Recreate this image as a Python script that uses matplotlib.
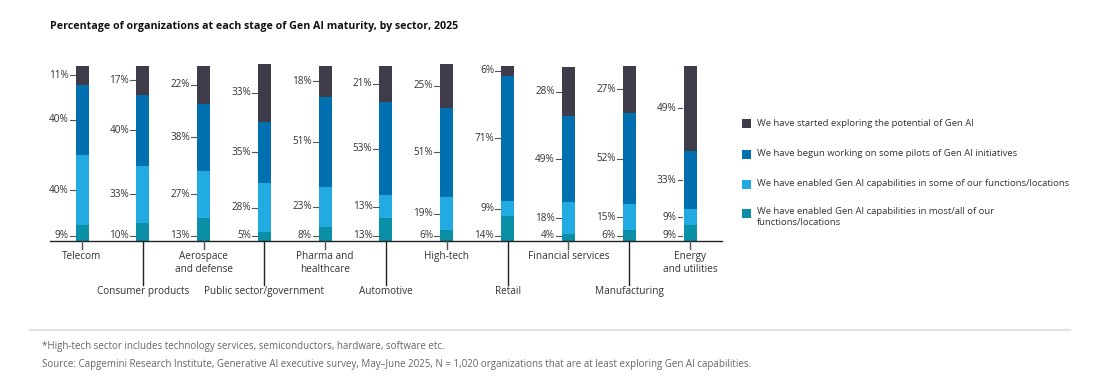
import matplotlib.pyplot as plt
from matplotlib.patches import Rectangle
from matplotlib.lines import Line2D

plt.rcParams['font.family'] = ['Open Sans', 'DejaVu Sans']

# data (bottom -> top)
sectors = ['Telecom', 'Consumer products', 'Aerospace\nand defense', 'Public sector/government',
           'Pharma and\nhealthcare', 'Automotive', 'High-tech', 'Retail', 'Financial services',
           'Manufacturing', 'Energy\nand utilities']
most_all = [9, 10, 13, 5, 8, 13, 6, 14, 4, 6, 9]
some = [40, 33, 27, 28, 23, 13, 19, 9, 18, 15, 9]
pilots = [40, 40, 38, 35, 51, 53, 51, 71, 49, 52, 33]
exploring = [11, 17, 22, 33, 18, 21, 25, 6, 28, 27, 49]

series = [most_all, some, pilots, exploring]
colors = ['#0a8fa6', '#22abe2', '#0070b0', '#3e3c4b']
legend_labels = ['We have started exploring the potential of Gen AI',
                 'We have begun working on some pilots of Gen AI initiatives',
                 'We have enabled Gen AI capabilities in some of our functions/locations',
                 'We have enabled Gen AI capabilities in most/all of our\nfunctions/locations']
legend_colors = ['#3e3c4b', '#0070b0', '#22abe2', '#0a8fa6']

W, H = 1096, 391
fig = plt.figure(figsize=(W / 100, H / 100), dpi=100)

base_px, top_px = 241, 60
left_px, right_px = 50, 722
ax = fig.add_axes([left_px / W, 1 - base_px / H, (right_px - left_px) / W, (base_px - top_px) / H])
px_per_pct = 1.755
ax.set_ylim(0, (base_px - top_px) / px_per_pct)
step = 60.8
ax.set_xlim((left_px - 82) / step, (right_px - 82) / step)
ax.axis('off')

bw = 13 / step
to_pct = 1 / px_per_pct
gray = '#333333'
for i in range(len(sectors)):
    bottom = 0
    for k, (s, c) in enumerate(zip(series, colors)):
        v = s[i]
        ax.bar(i, v, bottom=bottom, width=bw, color=c, linewidth=0)
        # lowest label sits just above the baseline
        mid = 5 * to_pct if k == 0 else bottom + v / 2
        ax.plot([i - bw / 2 - 6 / step, i - bw / 2 - 1 / step], [mid, mid], color='#555555', lw=0.8, clip_on=False)
        ax.text(i - bw / 2 - 7 / step, mid, f'{v}%', ha='right', va='center', fontsize=7.2, color=gray)
        bottom += v

# baseline
ax.plot([(left_px - 82) / step, (right_px - 82) / step], [0, 0], color='#222222', lw=1, clip_on=False)

# category labels, staggered
for i, name in enumerate(sectors):
    if i % 2 == 0:
        ax.plot([i, i], [0, -8 * to_pct], color='#555555', lw=1, clip_on=False)
        ax.text(i, -10 * to_pct, name, ha='center', va='top', fontsize=7.2, color=gray, linespacing=1.2)
    else:
        ax.plot([i, i], [0, -44 * to_pct], color='#222222', lw=1, clip_on=False)
        ax.text(i, -45 * to_pct, name, ha='center', va='top', fontsize=7.2, color=gray)

fig.text(50 / W, 1 - 27 / H, 'Percentage of organizations at each stage of Gen AI maturity, by sector, 2025',
         fontsize=7.7, fontweight='bold', color='#111111', va='center')

# legend
ly = [123, 154, 184, 213]
for y, lab, c in zip(ly, legend_labels, legend_colors):
    fig.patches.append(Rectangle((742 / W, 1 - (y + 4.5) / H), 9 / W, 9 / H, transform=fig.transFigure,
                                 color=c, linewidth=0))
    if '\n' in lab:
        fig.text(757 / W, 1 - (y - 6) / H, lab, fontsize=6.8, color=gray, va='top', linespacing=1.3)
    else:
        fig.text(757 / W, 1 - y / H, lab, fontsize=6.8, color=gray, va='center')

# footer
fig.add_artist(Line2D([30 / W, 1070 / W], [1 - 330 / H, 1 - 330 / H], color='#e4e4e4', lw=1.5))
fig.text(42 / W, 1 - 347 / H, '*High-tech sector includes technology services, semiconductors, hardware, software etc.',
         fontsize=7, color='#666666', va='center')
fig.text(42 / W, 1 - 364 / H, 'Source: Capgemini Research Institute, Generative AI executive survey, May\u2013June 2025, '
         'N = 1,020 organizations that are at least exploring Gen AI capabilities.',
         fontsize=7, color='#666666', va='center')

fig.savefig('out.png', dpi=100)
